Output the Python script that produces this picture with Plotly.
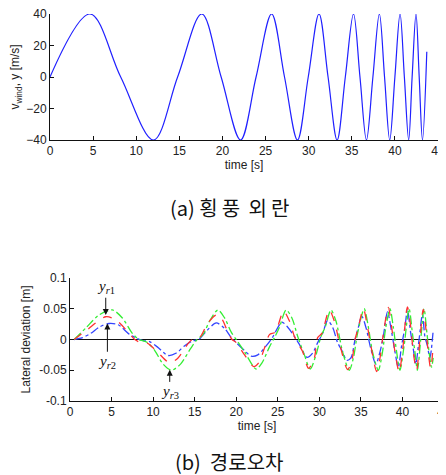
import plotly.graph_objects as go

# ---- (a) crosswind disturbance ----
wind_t = [0, 4.64, 8.2, 12.0, 14.8, 17.6, 19.85, 22.1, 23.9, 25.7, 27.2, 28.7, 29.95,
          31.2, 32.25, 33.3, 34.25, 35.2, 35.95, 36.7, 37.45, 38.2, 38.8, 39.4, 40.0,
          40.6, 41.1, 41.6, 42.0, 42.45, 42.82, 43.2, 43.7]
wind_v = [0, 40, 0, -40, 0, 40, 0, -40, 0, 40, 0, -40, 0,
          40, 0, -40, 0, 40, 0, -40, 0, 40, 0, -40, 0,
          40, 0, -40, 0, 40, 0, -40, 16]

# ---- (b) lateral deviation ----
yr1_t = [0.5, 2, 4.3, 5.5, 7, 7.8, 8.5, 9.3, 10.5, 12, 13, 14.3, 15, 15.7, 16.5, 17.6,
         18.2, 19, 19.5, 20, 21, 22.1, 22.7, 23.5, 24, 24.7, 25.7, 26.4, 27, 27.5, 28,
         28.7, 29.4, 29.8, 30.3, 31.2, 31.8, 32.5, 33.4, 33.9, 34.3, 34.7, 35.3, 35.8,
         36.2, 36.9, 37.3, 37.6, 38.3, 38.7, 39.1, 39.6, 40.0, 40.6, 41.0, 41.3, 41.7,
         42.1, 42.5, 42.8, 43.1, 43.4, 43.7]
yr1_v = [0, 0.015, 0.037, 0.032, 0.012, 0, -0.005, -0.006, -0.02, -0.038, -0.03, -0.005,
         0.003, 0.005, 0.025, 0.040, 0.035, 0.012, 0, -0.005, -0.025, -0.044, -0.038,
         -0.01, 0.008, 0.012, 0.046, 0.03, 0.005, -0.008, -0.02, -0.047, -0.03, 0.003,
         0.01, 0.048, 0.03, -0.01, -0.049, -0.035, 0.0, 0.02, 0.05, 0.02, -0.01, -0.052,
         -0.03, 0.0, 0.052, 0.02, -0.02, -0.053, -0.02, 0.053, 0.02, -0.02, -0.05, 0.0,
         0.049, 0.02, -0.02, -0.047, -0.01]

yr2_t = [0.5, 1.5, 2.5, 3.5, 4.7, 5.8, 7, 8.0, 8.8, 9.5, 10.5, 11.8, 12.8, 13.8, 14.8,
         15.5, 16.5, 17.6, 18.6, 19.3, 20, 21, 21.8, 22.6, 23.5, 24.3, 25.5, 26.2, 27,
         27.6, 28.5, 29.2, 29.8, 30.4, 31, 31.6, 32.2, 32.8, 33.3, 33.8, 34.3, 34.7,
         35.1, 35.6, 36.2, 36.8, 37.3, 37.7, 38.2, 38.6, 39.1, 39.5, 39.9, 40.3, 40.6,
         41.0, 41.3, 41.6, 42.0, 42.4, 42.7, 43.0, 43.3, 43.7]
yr2_v = [0, 0.003, 0.01, 0.02, 0.026, 0.024, 0.01, 0.002, -0.002, -0.003, -0.012, -0.026,
         -0.022, -0.01, -0.002, 0.0, 0.015, 0.027, 0.018, 0.005, -0.005, -0.018, -0.027,
         -0.025, -0.012, 0.002, 0.028, 0.02, 0.005, -0.008, -0.029, -0.022, -0.005, 0.01,
         0.031, 0.02, -0.005, -0.02, -0.034, -0.03, 0.0, 0.02, 0.038, 0.02, -0.015,
         -0.04, -0.02, 0.005, 0.045, 0.02, -0.02, -0.045, -0.01, 0.02, 0.048, 0.01,
         -0.015, -0.04, 0.0, 0.04, 0.005, -0.01, -0.03, 0.015]

yr3_t = [0.5, 2, 3.5, 5.1, 6.3, 7.5, 8.3, 9.2, 10.2, 11.2, 12.2, 13.3, 14.5, 15.3, 16,
         16.8, 17.8, 18.6, 19.4, 20.2, 21, 22.4, 23.1, 24, 24.6, 25.2, 26.0, 26.7, 27.4,
         28.2, 28.9, 29.6, 30.2, 30.7, 31.4, 32, 32.8, 33.6, 34.1, 34.6, 35.4, 35.9,
         36.4, 37.1, 37.6, 38.0, 38.5, 38.9, 39.3, 39.7, 40.2, 40.8, 41.2, 41.5, 41.8,
         42.2, 42.6, 42.95, 43.2, 43.5, 43.7]
yr3_v = [0, 0.02, 0.04, 0.048, 0.035, 0.01, 0, -0.004, -0.018, -0.04, -0.05, -0.04,
         -0.015, 0, 0.008, 0.03, 0.048, 0.035, 0.012, -0.004, -0.02, -0.048, -0.038,
         -0.012, 0.003, 0.02, 0.048, 0.035, 0.005, -0.025, -0.048, -0.025, 0.005, 0.02,
         0.048, 0.03, -0.02, -0.05, -0.03, 0.01, 0.05, 0.02, -0.02, -0.05, -0.02, 0.02,
         0.05, 0.02, -0.02, -0.05, -0.01, 0.05, 0.01, -0.02, -0.05, 0.0, 0.05, 0.01,
         -0.02, -0.045, -0.03]

zero_t = [0.5, 43.7]
zero_v = [0, 0]

x_ticks = [0, 5, 10, 15, 20, 25, 30, 35, 40, 45]
wind_ticks = [-40, -20, 0, 20, 40]
dev_ticks = [-0.1, -0.05, 0, 0.05, 0.1]
dev_tick_text = ["-0.1", "-0.05", "0", "0.05", "0.1"]

# page has an 8px body margin; figure is sized to fit the 446x475 window
OFF = 8
W, H = 446 - OFF, 475 - OFF
def fx(px):
    return (px - OFF) / W
def fy(py):
    return 1 - (py - OFF) / H

TXT = "#222222"
FONT = "Liberation Sans"

fig = go.Figure()
fig.add_trace(go.Scatter(x=wind_t, y=wind_v, mode="lines", line=dict(color="#2020ff", width=1.2, shape="spline", smoothing=1.0),
                         xaxis="x", yaxis="y", showlegend=False))
fig.add_trace(go.Scatter(x=zero_t, y=zero_v, mode="lines", line=dict(color="#111111", width=1.2),
                         xaxis="x2", yaxis="y2", showlegend=False))
fig.add_trace(go.Scatter(x=yr2_t, y=yr2_v, mode="lines", line=dict(color="#3344ff", width=1.3, dash="dashdot", shape="spline", smoothing=0.8),
                         xaxis="x2", yaxis="y2", showlegend=False))
fig.add_trace(go.Scatter(x=yr3_t, y=yr3_v, mode="lines", line=dict(color="#33ee33", width=1.3, dash="dashdot", shape="spline", smoothing=0.8),
                         xaxis="x2", yaxis="y2", showlegend=False))
fig.add_trace(go.Scatter(x=yr1_t, y=yr1_v, mode="lines", line=dict(color="#ff3030", width=1.3, dash="dash", shape="spline", smoothing=0.8),
                         xaxis="x2", yaxis="y2", showlegend=False))

axis_common = dict(showline=True, linecolor="#111111", linewidth=1, ticks="inside", ticklen=4,
                   tickcolor="#111111", showgrid=False, zeroline=False, mirror=False, automargin=False,
                   tickfont=dict(family=FONT, size=12, color=TXT), ticklabeloverflow="allow")

fig.update_layout(
    template="none",
    width=W, height=H, margin=dict(l=0, r=0, t=0, b=0, pad=0), autosize=False,
    paper_bgcolor="white", plot_bgcolor="white",
    xaxis=dict(axis_common, domain=[fx(50), fx(438)], range=[0, 45], tickvals=x_ticks, anchor="y",
               title=dict(text="time [s]", font=dict(family=FONT, size=12, color=TXT), standoff=3)),
    yaxis=dict(axis_common, domain=[fy(140), fy(14)], range=[-40, 40], tickvals=wind_ticks, anchor="x",
               title=dict(text="v<sub>wind</sub>, y [m/s]", font=dict(family=FONT, size=12, color=TXT), standoff=6)),
    xaxis2=dict(axis_common, domain=[fx(70), fx(444)], range=[0, 45], tickvals=x_ticks, anchor="y2",
                title=dict(text="time [s]", font=dict(family=FONT, size=12, color=TXT), standoff=3)),
    yaxis2=dict(axis_common, domain=[fy(401), fy(278)], range=[-0.1, 0.1], tickvals=dev_ticks,
                ticktext=dev_tick_text, anchor="x2",
                title=dict(text="Lateral deviation [m]", font=dict(family=FONT, size=12, color=TXT), standoff=6)),
)

lab_font = dict(family="Liberation Serif", size=15, color="#111111")
# label text sits at the arrow tail (ax, ay); arrow points to (x, y)
pointers = [
    ("<i>y</i><sub><i>r</i>1</sub>", 4.3, 0.040, 4.3, 0.085),
    ("<i>y</i><sub><i>r</i>2</sub>", 4.5, 0.026, 4.5, -0.037),
    ("<i>y</i><sub><i>r</i>3</sub>", 12.0, -0.049, 12.0, -0.086),
]
for txt, x, y, ax, ay in pointers:
    fig.add_annotation(xref="x2", yref="y2", axref="x2", ayref="y2", x=x, y=y, ax=ax, ay=ay,
                       text=txt, showarrow=True, arrowhead=2, arrowsize=1.2, arrowwidth=1,
                       arrowcolor="#111111", font=lab_font)

cap_font = dict(family="Noto Sans CJK KR", size=20, color="#111111")
fig.add_annotation(xref="paper", yref="paper", x=fx(229), y=fy(207), xanchor="center", yanchor="middle",
                   text="(a) 횡\u2009풍 \u2009외\u2009란", showarrow=False, font=cap_font)
fig.add_annotation(xref="paper", yref="paper", x=fx(229), y=fy(461), xanchor="center", yanchor="middle",
                   text="(b)  경로오차", showarrow=False, font=cap_font)

fig.write_html("out.html")
